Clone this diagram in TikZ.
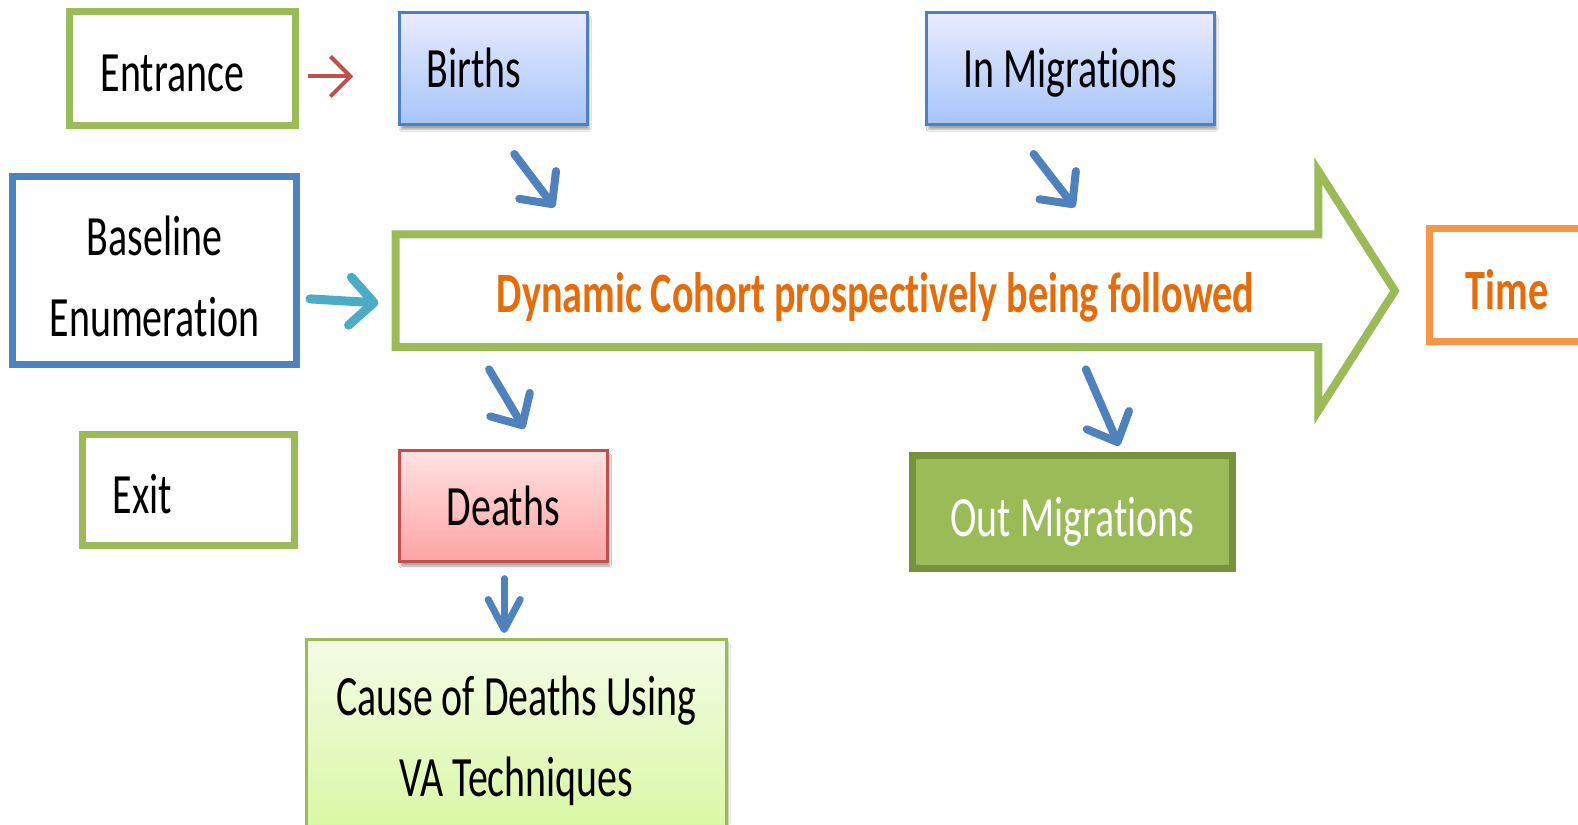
\documentclass[tikz,border=0pt]{standalone}
\usepackage{fontspec}
\setmainfont{Carlito}[Ligatures={NoCommon,NoRare,NoContextual},Contextuals={NoAlternate}]
\usetikzlibrary{arrows.meta,shadows.blur}
\definecolor{cgreen}{HTML}{9BBB59}
\definecolor{cblue}{HTML}{4F81BD}
\definecolor{cred}{HTML}{C0504D}
\definecolor{corange}{HTML}{F79646}
\definecolor{ccyan}{HTML}{4BACC6}
\definecolor{cdgreen}{HTML}{76923C}
\definecolor{ctext}{HTML}{E46C0A}
\newcommand{\sq}[1]{\scalebox{0.70}[1]{#1}}
\newcommand{\sqb}[1]{\scalebox{0.705}[1]{#1}}
\begin{document}
\begin{tikzpicture}[x=1.0064pt,y=-1.0064pt,
  every node/.style={inner sep=0pt, font=\fontsize{57}{81}\selectfont},
  gbox/.style={draw=cgreen, line width=7pt, fill=white},
  bbox/.style={draw=cblue, line width=7pt, fill=white},
  obox/.style={draw=corange, line width=7pt, fill=white},
  shade box/.style={line width=3pt,
    blur shadow={shadow blur steps=6, shadow xshift=2pt, shadow yshift=-5pt, shadow opacity=35}},
  bluegrad/.style={shade box, draw=cblue, top color=blue!8!white, bottom color={rgb,255:red,166;green,197;blue,250}},
  redgrad/.style={shade box, draw=cred, top color={rgb,255:red,255;green,226;blue,226}, bottom color={rgb,255:red,255;green,164;blue,164}},
  greengrad/.style={shade box, draw=cgreen, top color={rgb,255:red,243;green,252;blue,231}, bottom color={rgb,255:red,216;green,247;blue,160}},
  darkbox/.style={draw=cdgreen, line width=7pt, fill=cgreen, text=white},
  bluearr/.style={draw=cblue, line width=8pt, line cap=round, -{Straight Barb[round, length=24pt, width=46pt]}},
  cyanarr/.style={draw=ccyan, line width=9pt, line cap=round, -{Straight Barb[round, length=24pt, width=48pt]}},
  redarr/.style={draw=cred, line width=4pt, -{Straight Barb[length=20pt, width=40pt]}},
  downarr/.style={draw=cblue, line width=7pt, line cap=round, -{Straight Barb[round, length=30pt, width=32pt]}},
  bigarrow/.style={draw=cgreen, line width=8pt, line join=miter}
]
\clip (0,0) rectangle (1568,819);
\fill[white] (0,0) rectangle (1568,819);

% boxes
\node[gbox, minimum width=225.4pt, minimum height=113.7pt, text width=164pt, inner xsep=30.7pt, align=left, text height=47pt, text depth=0pt] (entrance) at (181.5,68) {\sq{Entrance}};
\node[bluegrad, minimum width=188.2pt, minimum height=111.7pt, text width=132.8pt, inner xsep=27.7pt, align=left, text height=39pt, text depth=0pt] (births) at (490,68) {\sq{Births}};
\node[bluegrad, minimum width=287.8pt, minimum height=111.7pt, text height=39pt, text depth=0pt] (inmig) at (1063.5,68) {\sq{In Migrations}};
\node[bbox, minimum width=283.8pt, minimum height=188.2pt, align=center] (baseline) at (153.5,269) {\rule{0pt}{51pt}\sq{Baseline}\\\sq{Enumeration}};
\node[gbox, minimum width=211.3pt, minimum height=111.7pt, text width=152pt, inner xsep=29.7pt, align=left, text height=47pt, text depth=0pt] (exit) at (187.5,487) {\sq{Exit}};
\node[redgrad, minimum width=208.3pt, minimum height=110.7pt, text height=40pt, text depth=0pt] (deaths) at (500,502.5) {\sq{Deaths}};
\node[darkbox, minimum width=320pt, minimum height=112.7pt, text height=49pt, text depth=0pt] (outmig) at (1065.5,508.5) {\sq{Out Migrations}};
\node[greengrad, minimum width=419.7pt, minimum height=203.3pt, anchor=north, align=center] (cause) at (513,633.5) {\sq{Cause of Deaths Using}\\\sq{VA Techniques}};
\node[obox, minimum height=112.7pt, text width=170pt, inner xsep=36.7pt, align=left, anchor=west, text height=49pt, text depth=0pt, text=ctext, font=\fontsize{57}{81}\selectfont\bfseries] (time) at (1416.5,283.5) {\sqb{Time}};

% big arrow
\draw[bigarrow] (393,233) -- (1310,233) -- (1310,170) -- (1386,289) -- (1310,408) -- (1310,345) -- (393,345) -- cycle;
\node[text=ctext, font=\fontsize{57}{81}\selectfont\bfseries, text height=37pt, text depth=0pt] (cohort) at (870,292) {\sqb{Dynamic Cohort prospectively being followed}};

% connector end points
\coordinate (r1) at (306,76);   \coordinate (r2) at (351,76);
\coordinate (c1) at (308,297);  \coordinate (c2) at (376,301);
\coordinate (b1) at (511,153);  \coordinate (b2) at (551,206);
\coordinate (m1) at (1027,153); \coordinate (m2) at (1068,206);
\coordinate (d1) at (486,367);  \coordinate (d2) at (521,426);
\coordinate (o1) at (1079,367); \coordinate (o2) at (1112,443);
\coordinate (v1) at (501,575);  \coordinate (v2) at (501,629);

\draw[redarr] (r1) -- (r2);
\draw[cyanarr] (c1) -- (c2);
\draw[bluearr] (b1) -- (b2);
\draw[bluearr] (m1) -- (m2);
\draw[bluearr] (d1) -- (d2);
\draw[bluearr] (o1) -- (o2);
\draw[downarr] (v1) -- (v2);
\end{tikzpicture}
\end{document}
